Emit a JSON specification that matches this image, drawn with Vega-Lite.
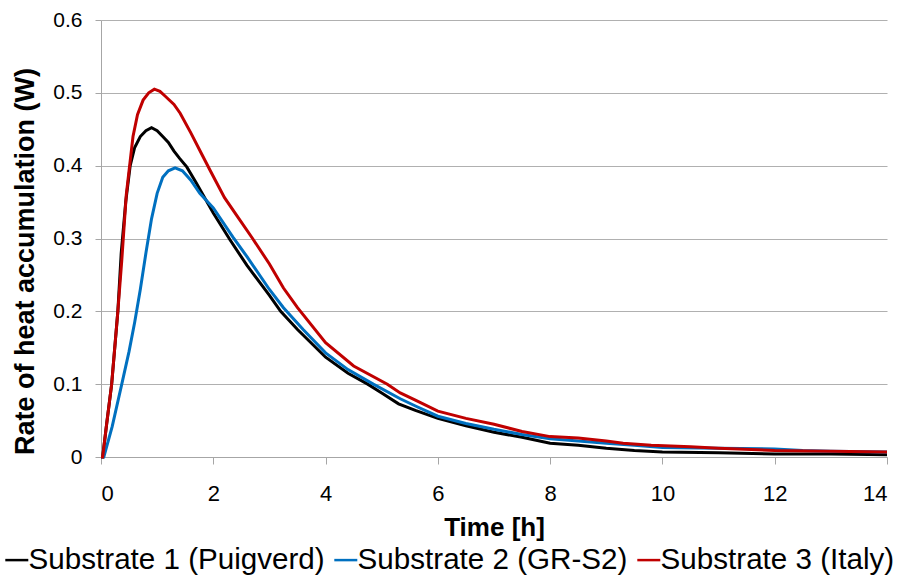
{
  "$schema": "https://vega.github.io/schema/vega-lite/v6.json",
  "width": 786,
  "height": 437,
  "autosize": {"type": "none"},
  "padding": {"left": 101, "top": 20, "right": 19, "bottom": 127},
  "config": {"view": {"stroke": null}, "font": "Liberation Sans"},
  "datasets": {
    "s1": [
      {"t":0,"v":0},{"t":0.03,"v":0},{"t":0.1,"v":0.045},{"t":0.19,"v":0.1},{"t":0.3,"v":0.2},{"t":0.36,"v":0.28},{"t":0.44,"v":0.35},{"t":0.52,"v":0.4},{"t":0.6,"v":0.425},{"t":0.7,"v":0.44},{"t":0.8,"v":0.448},{"t":0.9,"v":0.452},{"t":1.0,"v":0.448},{"t":1.1,"v":0.44},{"t":1.2,"v":0.432},{"t":1.3,"v":0.42},{"t":1.4,"v":0.41},{"t":1.53,"v":0.398},{"t":1.7,"v":0.376},{"t":2.0,"v":0.335},{"t":2.3,"v":0.298},{"t":2.6,"v":0.263},{"t":3.0,"v":0.222},{"t":3.2,"v":0.2},{"t":3.5,"v":0.175},{"t":4.0,"v":0.137},{"t":4.4,"v":0.115},{"t":4.75,"v":0.1},{"t":5.0,"v":0.088},{"t":5.3,"v":0.073},{"t":5.6,"v":0.064},{"t":6.0,"v":0.053},{"t":6.5,"v":0.043},{"t":7.0,"v":0.034},{"t":7.5,"v":0.027},{"t":8.0,"v":0.019},{"t":8.5,"v":0.016},{"t":9.0,"v":0.012},{"t":9.5,"v":0.009},{"t":10,"v":0.007},{"t":11,"v":0.006},{"t":12,"v":0.004},{"t":13,"v":0.004},{"t":14,"v":0.003}
    ],
    "s2": [
      {"t":0,"v":0},{"t":0.05,"v":0},{"t":0.2,"v":0.042},{"t":0.37,"v":0.1},{"t":0.5,"v":0.145},{"t":0.6,"v":0.185},{"t":0.7,"v":0.23},{"t":0.8,"v":0.28},{"t":0.9,"v":0.327},{"t":1.0,"v":0.362},{"t":1.1,"v":0.384},{"t":1.2,"v":0.393},{"t":1.32,"v":0.397},{"t":1.45,"v":0.393},{"t":1.6,"v":0.38},{"t":1.76,"v":0.362},{"t":2.0,"v":0.342},{"t":2.35,"v":0.302},{"t":2.6,"v":0.275},{"t":3.0,"v":0.23},{"t":3.25,"v":0.205},{"t":3.6,"v":0.175},{"t":4.0,"v":0.143},{"t":4.4,"v":0.12},{"t":4.85,"v":0.1},{"t":5.33,"v":0.08},{"t":5.6,"v":0.07},{"t":6.0,"v":0.056},{"t":6.5,"v":0.046},{"t":7.0,"v":0.038},{"t":7.5,"v":0.031},{"t":8.0,"v":0.025},{"t":8.5,"v":0.022},{"t":9.0,"v":0.019},{"t":9.5,"v":0.016},{"t":10,"v":0.013},{"t":11,"v":0.012},{"t":12,"v":0.011},{"t":12.5,"v":0.009},{"t":13,"v":0.008},{"t":14,"v":0.007}
    ],
    "s3": [
      {"t":0,"v":0},{"t":0.03,"v":0},{"t":0.1,"v":0.045},{"t":0.19,"v":0.1},{"t":0.3,"v":0.2},{"t":0.37,"v":0.27},{"t":0.45,"v":0.36},{"t":0.57,"v":0.44},{"t":0.65,"v":0.47},{"t":0.75,"v":0.49},{"t":0.85,"v":0.5},{"t":0.95,"v":0.505},{"t":1.05,"v":0.502},{"t":1.15,"v":0.495},{"t":1.3,"v":0.484},{"t":1.41,"v":0.472},{"t":1.6,"v":0.445},{"t":1.8,"v":0.415},{"t":1.94,"v":0.394},{"t":2.2,"v":0.356},{"t":2.45,"v":0.328},{"t":2.7,"v":0.3},{"t":3.0,"v":0.265},{"t":3.25,"v":0.232},{"t":3.5,"v":0.205},{"t":4.0,"v":0.157},{"t":4.5,"v":0.125},{"t":5.1,"v":0.1},{"t":5.33,"v":0.088},{"t":5.6,"v":0.078},{"t":6.0,"v":0.063},{"t":6.5,"v":0.053},{"t":7.0,"v":0.045},{"t":7.5,"v":0.035},{"t":8.0,"v":0.028},{"t":8.5,"v":0.026},{"t":9.0,"v":0.022},{"t":9.3,"v":0.019},{"t":9.8,"v":0.016},{"t":10.5,"v":0.014},{"t":11,"v":0.012},{"t":12,"v":0.009},{"t":13,"v":0.008},{"t":14,"v":0.007}
    ]
  },
  "layer": [
    {
      "data": {"name": "s1"},
      "transform": [{"calculate": "'Substrate 1 (Puigverd)'", "as": "s"}],
      "mark": {"type": "line", "strokeWidth": 3},
      "encoding": {
        "x": {"field": "t", "type": "quantitative"},
        "y": {"field": "v", "type": "quantitative"},
        "color": {"field": "s", "type": "nominal"}
      }
    },
    {
      "data": {"name": "s2"},
      "transform": [{"calculate": "'Substrate 2 (GR-S2)'", "as": "s"}],
      "mark": {"type": "line", "strokeWidth": 3},
      "encoding": {
        "x": {"field": "t", "type": "quantitative"},
        "y": {"field": "v", "type": "quantitative"},
        "color": {"field": "s", "type": "nominal"}
      }
    },
    {
      "data": {"name": "s3"},
      "transform": [{"calculate": "'Substrate 3 (Italy)'", "as": "s"}],
      "mark": {"type": "line", "strokeWidth": 3},
      "encoding": {
        "x": {"field": "t", "type": "quantitative"},
        "y": {"field": "v", "type": "quantitative"},
        "color": {"field": "s", "type": "nominal"}
      }
    }
  ],
  "resolve": {"scale": {"color": "shared"}},
  "encoding": {
    "x": {
      "field": "t", "type": "quantitative",
      "scale": {"domain": [0, 14], "nice": false},
      "axis": {
        "title": "Time [h]", "values": [0, 2, 4, 6, 8, 10, 12, 14], "grid": false,
        "domainColor": "#a6a6a6", "tickColor": "#a6a6a6", "tickSize": 7,
        "labelFontSize": 22, "labelPadding": 19, "labelColor": "#000",
        "titleFontSize": 26, "titleFontWeight": "bold", "titleColor": "#000",
        "titleY": 78, "titleBaseline": "alphabetic"
      }
    },
    "y": {
      "field": "v", "type": "quantitative",
      "scale": {"domain": [0, 0.6], "nice": false},
      "axis": {
        "title": "Rate of heat accumulation (W)", "values": [0, 0.1, 0.2, 0.3, 0.4, 0.5, 0.6],
        "labelExpr": "datum.value == 0 ? '0' : format(datum.value, '.1f')",
        "grid": true, "gridColor": "#b0b0b0", "gridWidth": 1.2,
        "domainColor": "#a6a6a6", "tickColor": "#a6a6a6", "tickSize": 6,
        "labelFontSize": 21, "labelPadding": 13, "labelColor": "#000",
        "titleFontSize": 27, "titleFontWeight": "bold", "titleColor": "#000",
        "titleX": -68, "titleY": 241, "titleAngle": 270, "titleAlign": "center", "titleBaseline": "alphabetic"
      }
    },
    "color": {
      "field": "s", "type": "nominal",
      "scale": {"domain": ["Substrate 1 (Puigverd)", "Substrate 2 (GR-S2)", "Substrate 3 (Italy)"], "range": ["#000000", "#0070C0", "#C00000"]},
      "legend": {
        "title": null, "orient": "none", "legendX": -99, "legendY": 525, "direction": "horizontal",
        "symbolType": "stroke", "symbolSize": 529, "symbolStrokeWidth": 2.5,
        "labelFontSize": 29.6, "labelOffset": -3, "columnPadding": 4, "labelColor": "#000", "labelLimit": 400
      }
    }
  }
}
